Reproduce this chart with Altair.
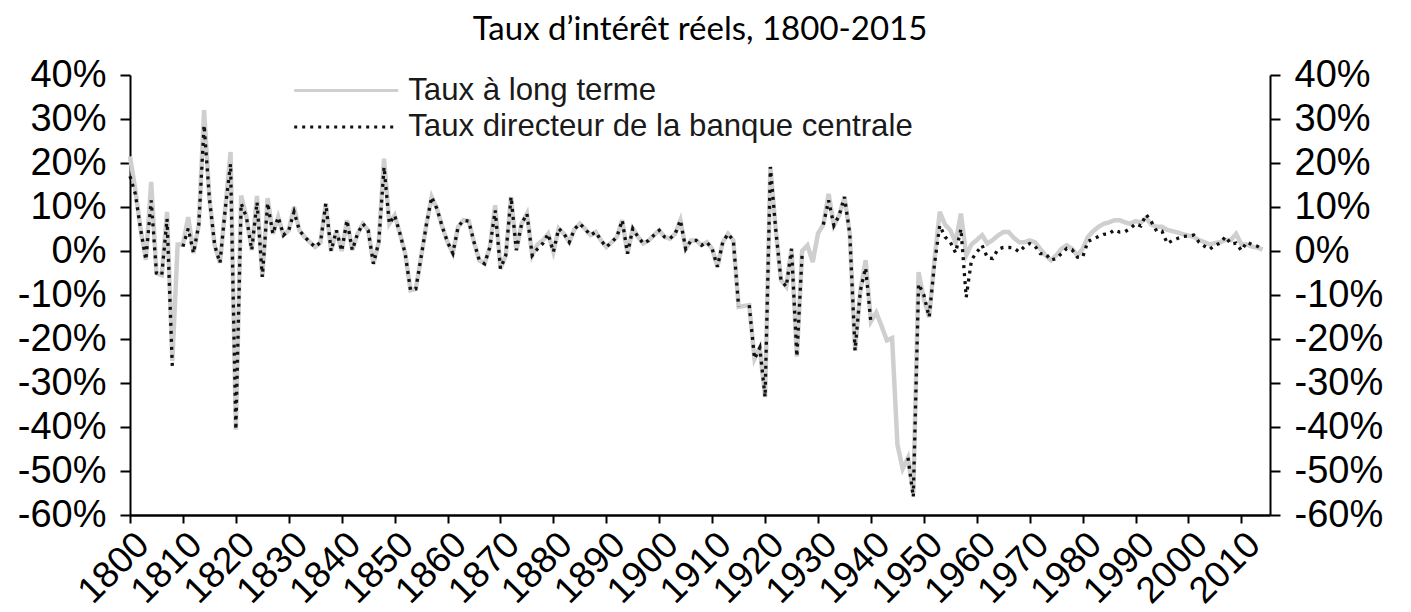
import altair as alt
import pandas as pd

years = list(range(1800, 2015))

long_rate = [
    21.5, 14, 5, -2, 15.7, -5, -5.5, 8.9, -25, 1.5,
    1.5, 7.7, -0.5, 6, 32, 12, 1.3, -2.7, 9.6, 22.5,
    -40.6, 12.6, 7.7, 0.2, 12.5, -5.9, 12, 3.9, 7.7, 3.6,
    4.7, 10, 4.7, 3.2, 2, 0.9, 2, 10.8, 0, 4.7,
    0, 7, 0.2, 3.9, 6.2, 4.7, -2.9, 2, 21, 6.2,
    8.1, 4, -0.6, -8.9, -8.6, -1.4, 6, 12.3, 9.6, 5.5,
    2, -0.5, 5.5, 7, 6.8, 2, -2.1, -2.9, 0.9, 10.4,
    -4, -1, 12.3, 0.2, 6.2, 8.5, -1, 1.5, 2.4, 3.9,
    -0.2, 5.1, 3.9, 2, 5, 6.2, 5, 3.6, 4.3, 2.4,
    0.9, 2, 3.2, 7, -0.6, 5.1, 3.2, 1.7, 2.4, 3.6,
    4.7, 3.2, 2.8, 3.9, 7, 0.5, 2.4, 2.4, 1.3, 2,
    0.5, -3.6, 2, 3.9, 2.4, -12.7, -12.5, -12.3, -24.5, -22,
    -33.2, 19.1, 5, -6.6, -8.1, 0.5, -24, 0, 1.3, -2.5,
    4, 6, 13, 5.8, 8.1, 12.3, 3.9, -22.6, -9, -2.1,
    -16, -14, -17, -20.3, -19.8, -44, -49.5, -47, -55, -4.8,
    -11, -15, -2, 8.9, 6, 4.7, 2, 8.5, -1, 1.5,
    2.5, 3.6, 1.7, 2.5, 3.5, 4.3, 4.3, 3, 2, 2,
    2.4, 2, 0.5, -1, -2.1, -1, 0.5, 1.3, 0.5, -1,
    0.5, 3.2, 4.5, 5.5, 6.2, 6.5, 7, 7, 6.5, 6.2,
    6.8, 6.5, 7.5, 6, 5.5, 5.5, 4.8, 4.5, 4.2, 3.8,
    3.5, 3.2, 2.5, 2, 1.5, 1.8, 2, 2.5, 2.5, 3.9,
    1.5, 1.5, 1, 0.8, 0.3,
]

policy_rate = [
    17, 13, 5, -2, 11.5, -5, -5.5, 7.3, -26.4, None,
    1, 5.1, -0.5, 6, 28.6, 12, 1.3, -2.7, 9.6, 19.8,
    -40.6, 10.8, 7.7, 0.2, 11.1, -5.9, 10.9, 3.9, 7.7, 3.6,
    4.7, 8.9, 4.7, 3.2, 2, 0.9, 2, 10.8, 0, 4.7,
    0, 7, 0.2, 3.9, 6.2, 4.7, -2.9, 2, 19.1, 6.2,
    8.1, 4, -0.6, -8.9, -8.6, -1.4, 6, 12.3, 9.6, 5.5,
    2, -0.5, 5.5, 7, 6.8, 2, -2.1, -2.9, 0.9, 9.2,
    -4, -1, 12.3, 0.2, 6.2, 8.5, -1, 0.5, 1.7, 3.9,
    -0.2, 5.1, 3.9, 2, 5, 6.2, 5, 3.6, 4.3, 2.4,
    0.9, 2, 3.2, 7, -0.6, 5.1, 3.2, 1.7, 2.4, 3.6,
    4.7, 3.2, 2.8, 3.9, 7, 0.5, 2.4, 2.4, 1.3, 2,
    0.5, -3.6, 2, 3.9, 2.4, -12.7, None, -12.3, -24.5, -22,
    -33.2, 19.1, 5, -6.6, -8.1, 0.5, -24, -0.6, None, None,
    None, 6, 11.5, 5.8, 8.1, 12.3, 3.9, -22.6, -9, -3.8,
    -16.4, None, None, None, None, None, None, -47, -55.9, -7.5,
    -10, -15, -3, 5.8, 3.2, 2, -0.4, 5, -10.5, -2,
    -0.3, 1.3, -1.5, -1.7, 0.4, 0.8, 0.8, 0.7, -0.2, 1,
    1.7, 1.1, -0.6, -0.6, -2.1, -1.7, -0.6, 0.6, 0.3, -1.4,
    -1.4, 2.2, 2.7, 3.3, 3.8, 3.9, 4.8, 4.3, 4.4, 5.1,
    6.2, 5.7, 8.3, 6.6, 4.5, 4.5, 1.7, 2.4, 2.9, 3.3,
    3.4, 3.6, 2, 1.1, 0.4, 1.3, 1.8, 3.3, 1.6, 1.8,
    0.1, 2, 1.5, 1.1, 0.4,
]

series_names = ["Taux à long terme", "Taux directeur de la banque centrale"]
y_ticks = [-60, -50, -40, -30, -20, -10, 0, 10, 20, 30, 40]
x_ticks = list(range(1800, 2011, 10))
title_text = "Taux d’intérêt réels, 1800-2015"

rows = []
for name, vals in zip(series_names, [long_rate, policy_rate]):
    seg = 0
    gap = False
    for yr, v in zip(years, vals):
        if v is None:
            gap = True
            continue
        if gap:
            seg += 1
            gap = False
        rows.append({"year": yr, "value": v, "series": name, "seg": f"{name}-{seg}"})
df = pd.DataFrame(rows)

pct_expr = "datum.value + '%'"

x_enc = alt.X(
    "year:Q",
    scale=alt.Scale(domain=[1800, 2015.4], nice=False, zero=False),
    axis=alt.Axis(values=x_ticks, format="d", labelAngle=-45, labelFontSize=37,
                  labelFont="Liberation Sans", labelColor="black", tickSize=8,
                  tickWidth=2, domainWidth=2.5, domainColor="black", tickColor="black",
                  labelPadding=3, grid=False, title=None, labelOverlap=False),
)

def y_enc(orient):
    return alt.Y(
        "value:Q",
        scale=alt.Scale(domain=[-60, 40], nice=False),
        axis=alt.Axis(values=y_ticks, orient=orient, labelExpr=pct_expr, labelFontSize=38,
                      labelFont="Liberation Sans", labelColor="black", tickSize=10,
                      tickWidth=2, domainWidth=2, domainColor="black", tickColor="black",
                      labelPadding=14, grid=False, title=None),
    )

legend = alt.Legend(title=None, orient="none", legendX=159, legendY=0,
                    symbolType="M-1,0H9", symbolSize=433, symbolStrokeWidth=3,
                    labelFont="Liberation Sans", labelFontSize=31.2, labelColor="#1a1a1a",
                    labelOffset=88, rowPadding=4.5, labelLimit=1000)

color_enc = alt.Color("series:N", scale=alt.Scale(domain=series_names, range=["#cfcfcf", "#111111"]),
                      legend=legend)
dash_enc = alt.StrokeDash("series:N", scale=alt.Scale(domain=series_names, range=[[1, 0], [3, 5]]),
                          legend=legend)

long_layer = alt.Chart(df).transform_filter(
    alt.datum.series == series_names[0]
).mark_line(strokeWidth=4.5).encode(
    x=x_enc, y=y_enc("left"), color=color_enc, strokeDash=dash_enc, detail="seg:N", order="year:Q"
)

policy_layer = alt.Chart(df).transform_filter(
    alt.datum.series == series_names[1]
).mark_line(strokeWidth=3.3).encode(
    x=x_enc, y=y_enc("right"), color=color_enc, strokeDash=dash_enc, detail="seg:N", order="year:Q"
)

chart = alt.layer(long_layer, policy_layer).resolve_scale(y="independent").properties(
    width=1140, height=440,
    title=alt.TitleParams(title_text, font="Lato", fontSize=33, fontWeight="normal",
                          color="black", anchor="middle", frame="group", offset=9),
    padding={"left": 9, "top": 6, "right": 5, "bottom": 0},
).configure_view(stroke=None)

chart.save("out.html", embed_options={"renderer": "svg", "actions": False})
